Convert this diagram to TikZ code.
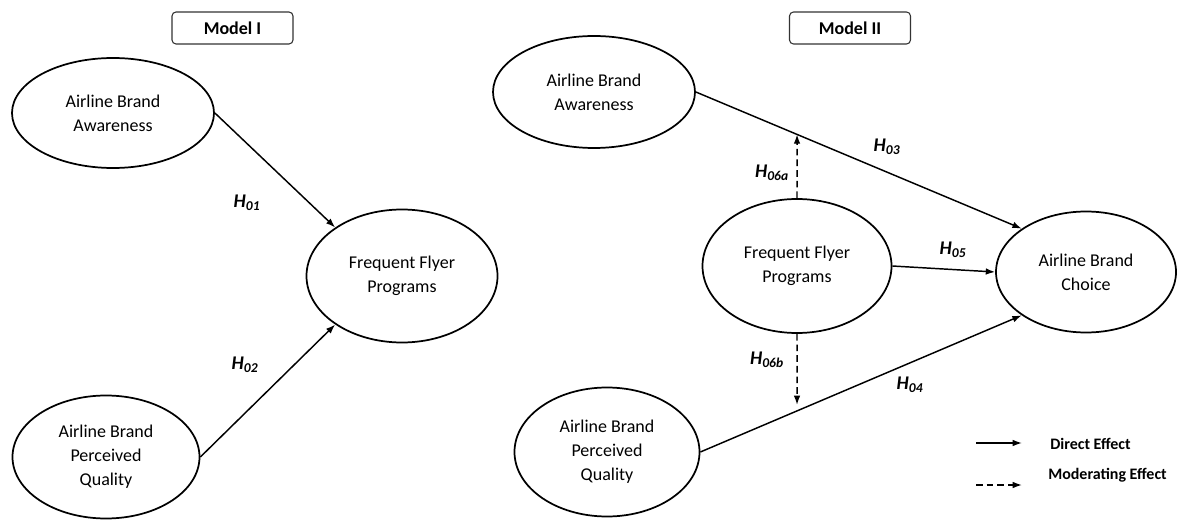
\documentclass[tikz,border=0pt]{standalone}
\usepackage{fontspec}
\setmainfont{Carlito}
\usetikzlibrary{shapes.geometric, arrows.meta}
\tikzset{
    construct/.style={ellipse, draw, line width=1.3pt, inner sep=0pt, align=center, font=\fontsize{13.5}{18}\selectfont},
    modelbox/.style={draw=black!80, rounded corners=3pt, line width=0.8pt, minimum width=90.75pt, minimum height=24pt, font=\fontsize{13.5}{16}\selectfont\bfseries},
    hyplabel/.style={font=\fontsize{14.5}{17}\selectfont\bfseries\itshape},
    legendlabel/.style={anchor=west, inner sep=0pt, font=\fontsize{12}{14}\selectfont\bfseries},
    direct/.style={line width=1.1pt, -{Latex[length=7pt,width=5pt]}},
    moderate/.style={direct, dash pattern=on 5pt off 3pt}
}

\begin{document}
\begin{tikzpicture}[x=0.75pt, y=-0.75pt]
    \useasboundingbox (0,0) rectangle (1177,520);

    % Model I
    \node[modelbox] (m1) at (232.5,28) {Model I};
    \node[construct, minimum width=151.5pt, minimum height=82.5pt] (aw1) at (113,113) {Airline Brand\\Awareness};
    \node[construct, minimum width=143.25pt, minimum height=99.75pt] (ffp1) at (402,276) {Frequent Flyer\\Programs};
    \node[construct, minimum width=140.25pt, minimum height=92.25pt] (pq1) at (106,457) {Airline Brand\\Perceived\\Quality};
    \draw[direct] (aw1.east) -- (ffp1.144);
    \draw[direct] (pq1.east) -- (ffp1.216);
    \node[hyplabel] at (247,203) {H\textsubscript{01}};
    \node[hyplabel] at (245,365) {H\textsubscript{02}};

    % Model II
    \node[modelbox] (m2) at (850,28) {Model II};
    \node[construct, minimum width=151.5pt, minimum height=84pt] (aw2) at (594,92) {Airline Brand\\Awareness};
    \node[construct, minimum width=141.75pt, minimum height=100.5pt] (ffp2) at (797,266) {Frequent Flyer\\Programs};
    \node[construct, minimum width=138.75pt, minimum height=96.75pt] (pq2) at (607,452) {Airline Brand\\Perceived\\Quality};
    \node[construct, minimum width=135pt, minimum height=90.75pt] (ch) at (1086,272) {Airline Brand\\Choice};
    \draw[direct] (aw2.east) -- (ch.146);
    \draw[direct] (ffp2.east) -- (ch.west);
    \draw[direct] (pq2.east) -- (ch.214);

    % moderating paths
    \coordinate (m3) at (intersection of aw2.east--ch.146 and ffp2.north--ffp2.south);
    \coordinate (m4) at (intersection of pq2.east--ch.214 and ffp2.north--ffp2.south);
    \draw[moderate] (ffp2.north) -- (m3);
    \draw[moderate, shorten >=4.5pt] (ffp2.south) -- (m4);

    \node[hyplabel] at (887,147) {H\textsubscript{03}};
    \node[hyplabel] at (953,250) {H\textsubscript{05}};
    \node[hyplabel] at (910,385) {H\textsubscript{04}};
    \node[hyplabel] at (772,173) {H\textsubscript{06a}};
    \node[hyplabel] at (767,360) {H\textsubscript{06b}};

    % legend
    \coordinate (d1) at (976,443);
    \coordinate (d2) at (1022,443);
    \coordinate (e1) at (976,485);
    \coordinate (e2) at (1022,485);
    \draw[direct] (d1) -- (d2);
    \draw[moderate] (e1) -- (e2);
    \node[legendlabel] (dl) at (1050,444) {Direct Effect};
    \node[legendlabel] (ml) at (1048,475) {Moderating Effect};
\end{tikzpicture}
\end{document}
